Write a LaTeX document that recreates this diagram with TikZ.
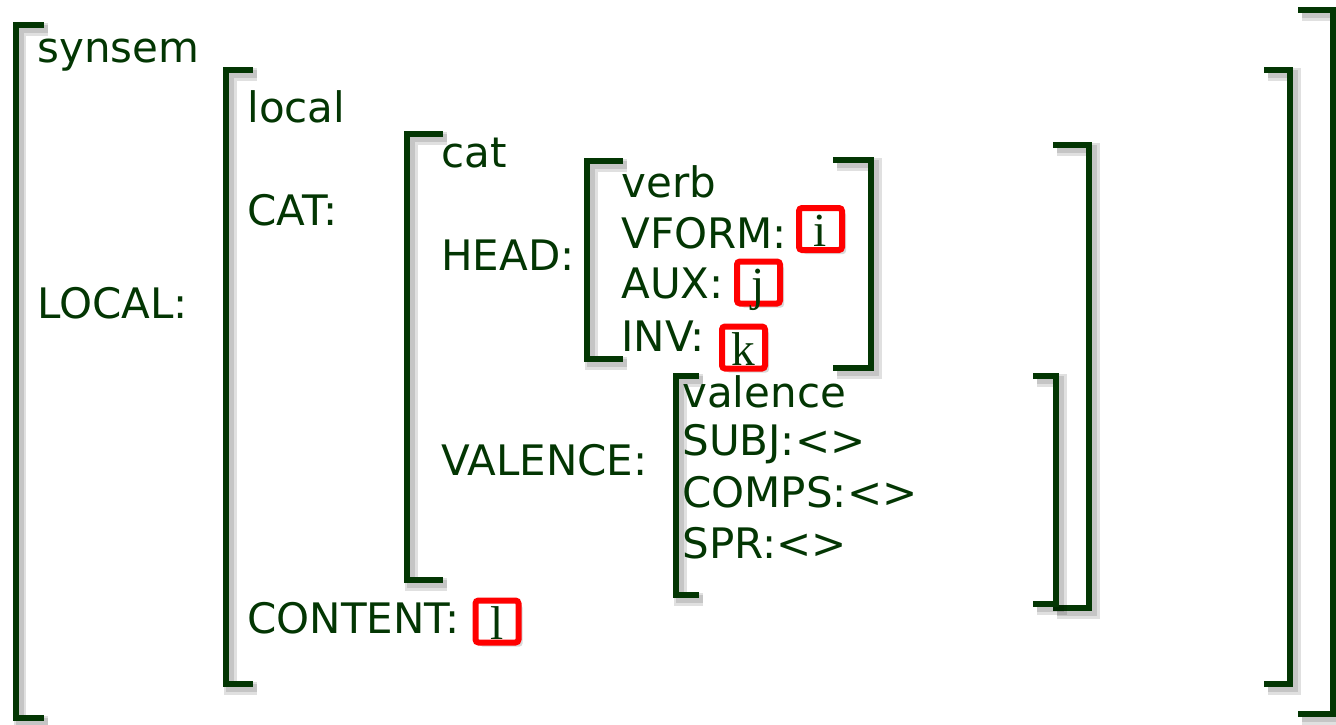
\documentclass[tikz,border=0pt]{standalone}
\usepackage{fontspec}
\setmainfont{DejaVu Sans}
\newfontfamily\tagfont{Liberation Serif}
\usetikzlibrary{shadows}
\definecolor{avmgreen}{HTML}{033603}

\begin{document}
\begin{tikzpicture}
	[
	 x = 0.02cm,
	 y = -0.02cm,
	 every node/.style = {anchor = base west,
	                      inner sep = 0pt,
	                      text = avmgreen,
	                      font = \fontsize{23.9}{28}\selectfont
	                     },
	 brk/.style = {draw = avmgreen,
	               line width = 0.135cm,
	               line join = miter
	              },
	 brkshade/.style = {draw = black,
	                    opacity = 0.12,
	                    line join = miter,
	                    shift = {(4,4)}
	                   },
	 tag/.style = {anchor = center,
	               draw = red,
	               fill = white,
	               line width = 0.12cm,
	               rounded corners = 0.06cm,
	               minimum width = 0.86cm,
	               text height = 0.77cm,
	               text depth = 0.07cm,
	               font = \tagfont\fontsize{27}{30}\selectfont,
	               drop shadow = {shadow xshift = 0.08cm,
	                              shadow yshift = -0.08cm,
	                              opacity = 0.3}
	              }
	]
	
	\useasboundingbox (0,0) rectangle (1336,724);
	
	% bracket: x, top, bottom, arm (negative arm opens to the left)
	\newcommand{\avmbrack}[4]{%
		\draw[brkshade, line width = 0.26cm] (#1+#4,#2) -- (#1,#2) -- (#1,#3) -- (#1+#4,#3);
		\draw[brkshade, line width = 0.16cm] (#1+#4,#2) -- (#1,#2) -- (#1,#3) -- (#1+#4,#3);
		\draw[brk] (#1+#4,#2) -- (#1,#2) -- (#1,#3) -- (#1+#4,#3);}
	
	\avmbrack{16}{25}{718}{28}
	\avmbrack{1333}{10}{714}{-35}
	\avmbrack{226}{70}{684}{27}
	\avmbrack{1290}{70}{684}{-26}
	\avmbrack{407}{134}{580}{36}
	\avmbrack{1089}{145}{608}{-36}
	\avmbrack{587}{161}{359}{36}
	\avmbrack{871}{160}{368}{-38}
	\avmbrack{676}{376}{595}{23}
	\avmbrack{1056}{376}{604}{-23}
	
	\node (synsem)  at (37,62)   {synsem};
	\node (LOCAL)   at (37,318)  {LOCAL:};
	\node (local)   at (247,122) {local};
	\node (CAT)     at (247,225) {CAT:};
	\node (CONTENT) at (247,633) {CONTENT:};
	\node (cat)     at (441,167) {cat};
	\node (HEAD)    at (441,270) {HEAD:};
	\node (VALENCE) at (441,475) {VALENCE:};
	\node (verb)    at (621,197) {verb};
	\node (VFORM)   at (621,248) {VFORM:};
	\node (AUX)     at (621,298) {AUX:};
	\node (INV)     at (621,351) {INV:};
	\node (valence) at (682,407) {valence};
	\node (SUBJ)    at (682,455) {SUBJ:<>};
	\node (COMPS)   at (682,507) {COMPS:<>};
	\node (SPR)     at (682,558) {SPR:<>};
	
	\node[tag] (tagI) at (820.5,229)   {i};
	\node[tag] (tagJ) at (758.5,282.5) {j};
	\node[tag] (tagK) at (743.5,347.5) {k};
	\node[tag] (tagL) at (497,621.5)   {l};
\end{tikzpicture}
\end{document}
